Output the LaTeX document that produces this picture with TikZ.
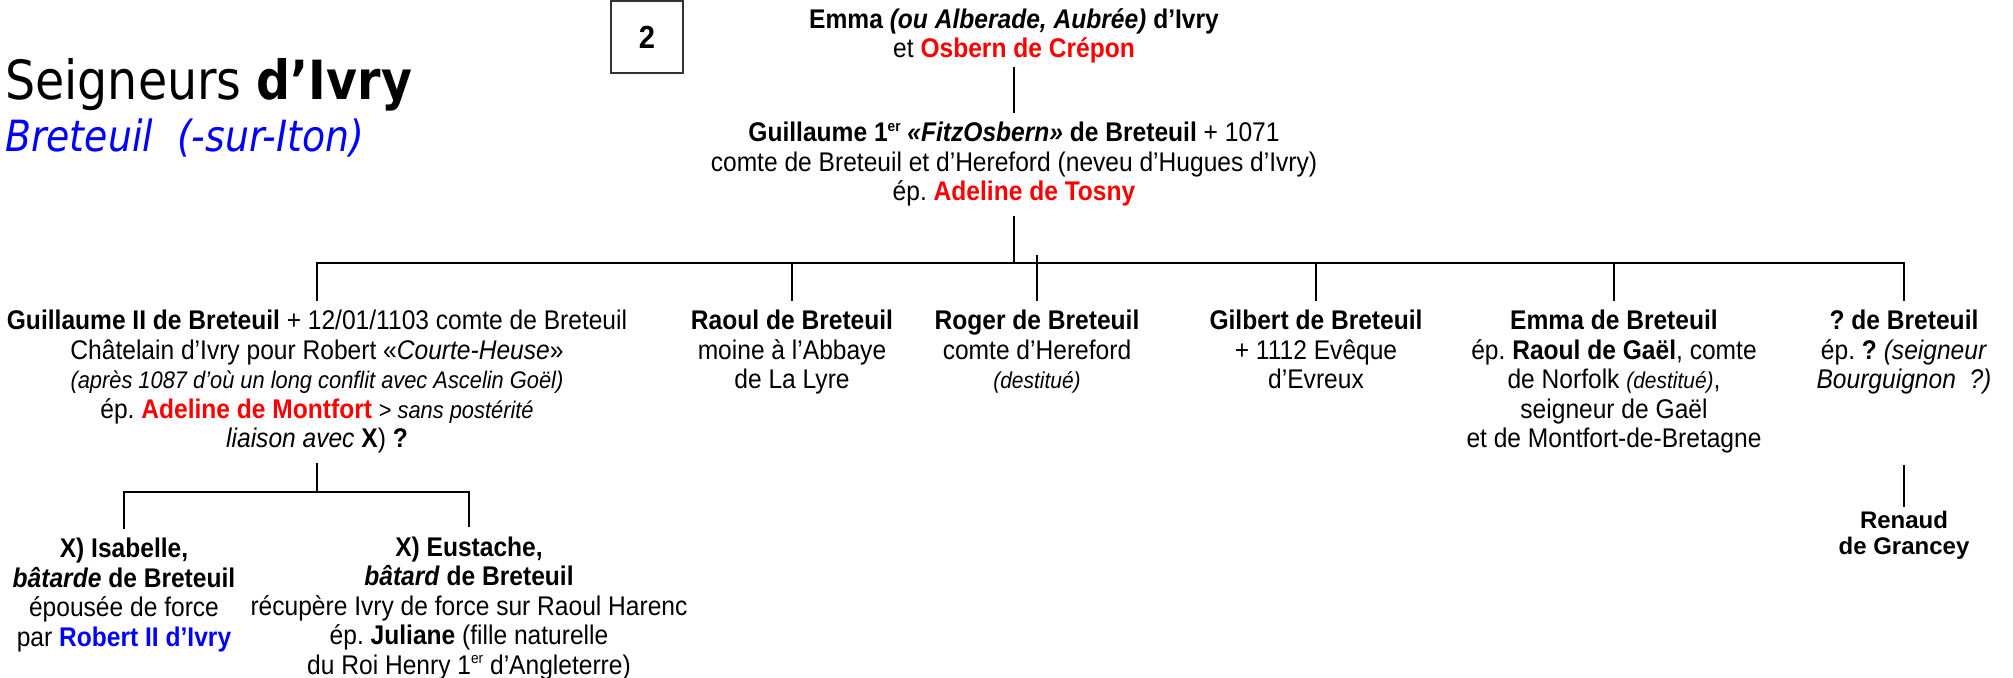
\documentclass[tikz,border=0pt]{standalone}
\usepackage{fontspec}
\setmainfont{Liberation Sans}[FakeStretch=0.91]
\newfontfamily\widefont{Liberation Sans}
\newfontfamily\titlefont{DejaVu Sans}[FakeStretch=0.88]
\usetikzlibrary{positioning}
\frenchspacing
\newcommand{\expo}[1]{\raisebox{0.75ex}{\fontsize{7.5}{8}\selectfont #1}}

\begin{document}
\begin{tikzpicture}[x=0.5pt,y=-0.5pt,line width=1.2pt]
	\tikzstyle{pers}=[align=center,anchor=base,inner sep=4pt,font=\fontsize{13.5}{14.75}\selectfont]
	\useasboundingbox (0,0) rectangle (2013,678);
	\node[anchor=base west,inner sep=0,font=\titlefont\fontsize{27}{30}\selectfont] (titre) at (4,100) {Seigneurs \textbf{d’Ivry}};
	\node[anchor=base west,inner sep=0,text=blue,font=\titlefont\fontsize{21.5}{24}\selectfont\itshape] (lieu) at (4,152) {Breteuil\ \ (-sur-Iton)};
	\node[draw=black!80,line width=0.6pt,minimum width=36pt,minimum height=36pt,font=\bfseries\fontsize{16}{16}\selectfont] (num) at (647,37) {2};
	\node[pers,inner ysep=1pt] (emma) at (1014,58) {\textbf{Emma \textit{(ou Alberade, Aubrée)} d’Ivry}\\
		et \textcolor{red}{\textbf{Osbern de Crépon}}};
	\node[pers] (g1) at (1014,201) {\textbf{Guillaume 1\expo{er} \textit{«FitzOsbern»} de Breteuil} + 1071\\
		comte de Breteuil et d’Hereford (neveu d’Hugues d’Ivry)\\
		ép. \textcolor{red}{\textbf{Adeline de Tosny}}};
	\node[pers] (g2) at (317,448) {\textbf{Guillaume II de Breteuil} + 12/01/1103 comte de Breteuil\\
		Châtelain d’Ivry pour Robert «\textit{Courte-Heuse}»\\
		{\fontsize{12}{14.75}\selectfont\itshape (après 1087 d’où un long conflit avec Ascelin Goël)}\\
		ép. \textcolor{red}{\textbf{Adeline de Montfort}} {\fontsize{12}{14.75}\selectfont > \textit{sans postérité}}\\
		\textit{liaison avec} \textbf{X}) \textbf{?}};
	\node[pers] (raoul) at (792,389) {\textbf{Raoul de Breteuil}\\ moine à l’Abbaye\\ de La Lyre};
	\node[pers] (roger) at (1037,389) {\textbf{Roger de Breteuil}\\ comte\ d’Hereford\\
		{\fontsize{11.5}{14.75}\selectfont\itshape (destitué)}};
	\node[pers] (gilbert) at (1316,389) {\textbf{Gilbert de Breteuil}\\ + 1112 Evêque\\ d’Evreux};
	\node[pers] (emmab) at (1614,448) {\textbf{Emma de Breteuil}\\
		ép. \textbf{Raoul de Gaël}, comte\\
		de Norfolk {\fontsize{11.5}{14.75}\selectfont\itshape (destitué)},\\
		seigneur de Gaël\\ et de Montfort-de-Bretagne};
	\node[pers] (qb) at (1904,389) {\textbf{? de Breteuil}\\ ép. \textbf{?} \textit{(seigneur}\\ \textit{Bourguignon\ \ ?)}};
	\node[pers] (isa) at (124,646) {\textbf{X) Isabelle,}\\ \textbf{\textit{bâtarde} de Breteuil}\\
		épousée de force\\ par \textcolor{blue}{\textbf{Robert II d’Ivry}}};
	\node[pers] (eus) at (469,674) {\textbf{X) Eustache,}\\ \textbf{\textit{bâtard} de Breteuil}\\
		récupère Ivry de force sur Raoul Harenc\\
		ép. \textbf{Juliane} (fille naturelle\\
		du Roi Henry 1\expo{er} d’Angleterre)};
	\node[pers,inner ysep=1.5pt,font=\widefont\bfseries\fontsize{12}{12.8}\selectfont] (ren) at (1904,554) {Renaud\\ de Grancey};
	\coordinate (fork1) at (1014,263);
	\coordinate (fork2) at (313,492);
	\coordinate (rogtop) at (1037,255);
	\coordinate (qbfoot) at (1904,465);
	\draw (emma) -- (g1);
	\draw (g1) -- (fork1);
	\draw (g2.north) |- (fork1) -| (qb.north);
	\foreach \n in {raoul,gilbert,emmab}
		\draw (\n.north) -- (\n.north |- fork1);
	\draw (roger.north) -- (roger.north |- rogtop);
	\draw (g2.south) -- (g2.south |- fork2);
	\draw (isa.north) |- (fork2) -| (eus.north);
	\draw (qbfoot) -- (ren);
\end{tikzpicture}
\end{document}
